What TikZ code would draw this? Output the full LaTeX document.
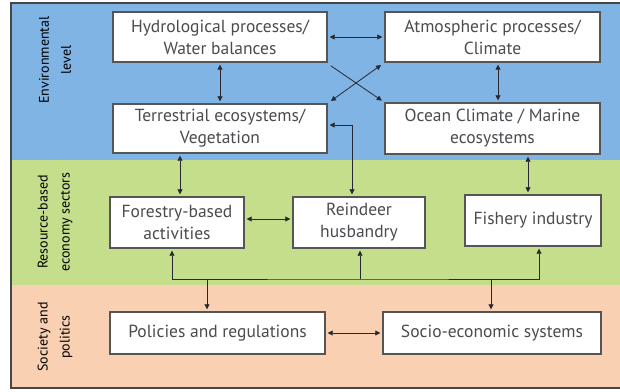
\documentclass[tikz,border=0pt]{standalone}
\usepackage{fontspec}
\setmainfont{PT Sans}
\usetikzlibrary{arrows.meta}
\definecolor{bluebg}{RGB}{128,180,228}
\definecolor{greenbg}{RGB}{196,222,140}
\definecolor{orangebg}{RGB}{249,209,178}
\definecolor{boxc}{RGB}{85,85,85}
\definecolor{txtc}{RGB}{75,75,80}
\definecolor{linec}{RGB}{40,40,50}
\definecolor{framec}{RGB}{70,70,70}
\tikzset{
  box/.style={draw=boxc, line width=1.4pt, fill=white, text=txtc, align=center,
    font=\fontsize{17.5}{22}\selectfont, inner sep=0pt},
  conn/.style={draw=linec, line width=0.8pt},
  both/.style={conn, {Triangle[length=5pt,width=5pt]}-{Triangle[length=5pt,width=5pt]}, shorten <=2pt, shorten >=2pt},
  one/.style={conn, -{Triangle[length=5pt,width=5pt]}, shorten >=2pt},
  lbl/.style={rotate=90, align=center, text=black, font=\fontsize{14}{22}\selectfont, inner sep=0pt}
}
\begin{document}
\begin{tikzpicture}[x=1pt,y=-1pt]
\useasboundingbox (0,0) rectangle (620,391);
\fill[white] (0,0) rectangle (620,391);
\fill[bluebg] (11,3) rectangle (620,160);
\fill[greenbg] (11,160) rectangle (620,285);
\fill[orangebg] (11,285) rectangle (620,388);
\draw[framec, line width=1.5pt] (620,3) -- (11,3) -- (11,388) -- (620,388);

\node[lbl] (lenv) at (55,60) {Environmental\\level};
\node[lbl] (lres) at (55,222) {Resource-based\\economy sectors};
\node[lbl] (lsoc) at (55,337) {Society and\\politics};

\node[box, minimum width=214pt, minimum height=50pt] (hyd) at (220,37) {Hydrological processes/\\Water balances};
\node[box, minimum width=215pt, minimum height=50pt] (atm) at (492.5,37) {Atmospheric processes/\\Climate};
\node[box, minimum width=214pt, minimum height=49pt] (ter) at (220,128.5) {Terrestrial ecosystems/\\Vegetation};
\node[box, minimum width=215pt, minimum height=51pt] (oce) at (492.5,128.5) {Ocean Climate / Marine\\ecosystems};
\node[box, minimum width=134pt, minimum height=51pt] (for) at (177,222.5) {Forestry-based\\activities};
\node[box, minimum width=132pt, minimum height=51pt] (rei) at (359,222.5) {Reindeer\\husbandry};
\node[box, minimum width=136pt, minimum height=51pt] (fis) at (533,220.5) {Fishery industry};
\node[box, minimum width=215pt, minimum height=42pt] (pol) at (217.5,333) {Policies and regulations};
\node[box, minimum width=218pt, minimum height=42pt] (soc) at (492,333) {Socio-economic systems};

\draw[both] (hyd.east) -- (atm.west);
\draw[both] (hyd.south) -- (ter.north);
\draw[both] ([xshift=5.5pt]atm.south) -- ([xshift=5.5pt]atm.south |- oce.north);
\draw[one, shorten <=0pt, shorten >=3pt] ([shift={(3,3)}]hyd.south east) -- (oce.north west);
\draw[both, shorten <=4pt, shorten >=4pt] (ter.north east) -- (atm.south west);
\draw[both] ([xshift=-7pt]rei.north) |- ([yshift=3.5pt]ter.east);
\draw[both] ([xshift=3pt]for.north) -- ([xshift=3pt]for.north |- ter.south);
\draw[both] ([xshift=-5pt]fis.north) -- ([xshift=-5pt]fis.north |- oce.south);
\draw[both] ([yshift=3.5pt]for.east) -- ([yshift=3.5pt]rei.west);
\draw[both] (pol.east) -- (soc.west);

\coordinate (bus) at (360,279);
\draw[both] ([xshift=-5pt]for.south) |- (bus) -| ([xshift=6pt]fis.south);
\draw[one] ([xshift=1pt]rei.south |- bus) -- ([xshift=1pt]rei.south);
\draw[one] ([xshift=-10.5pt]pol.north |- bus) -- ([xshift=-10.5pt]pol.north);
\draw[one] ([xshift=-1pt]soc.north |- bus) -- ([xshift=-1pt]soc.north);
\end{tikzpicture}
\end{document}
